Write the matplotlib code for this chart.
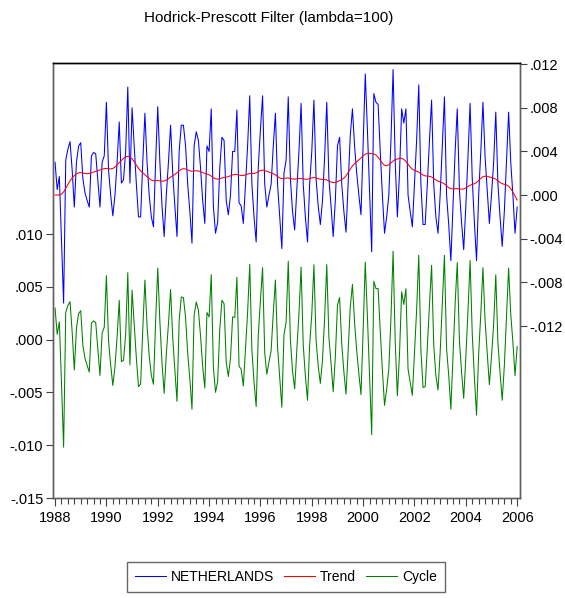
import matplotlib
matplotlib.use("Agg")
import matplotlib.pyplot as plt
from matplotlib.ticker import FixedLocator, FuncFormatter
import numpy as np

plt.rcParams['font.family'] = ['Liberation Sans Narrow', 'Liberation Sans', 'DejaVu Sans']

# monthly series, 1988M01 - 2006M01
start_year = 1988
netherlands = [
    # 1988
    0.0030, 0.0005, 0.0017, -0.0040, -0.0099, 0.0032, 0.0042, 0.0049, 0.0023, -0.0011, 0.0030, 0.0045,
    # 1989
    0.0048, 0.0015, 0.0002, -0.0005, -0.0011, 0.0036, 0.0039, 0.0038, 0.0014, -0.0011, 0.0030, 0.0036,
    # 1990
    0.0085, 0.0023, 0.0000, -0.0019, 0.0000, 0.0030, 0.0067, 0.0011, 0.0014, 0.0040, 0.0099, 0.0011,
    # 1991
    0.0080, 0.0045, 0.0010, -0.0020, -0.0020, 0.0030, 0.0075, 0.0030, 0.0000, -0.0020, -0.0029, 0.0030,
    # 1992
    0.0081, 0.0030, -0.0010, -0.0038, 0.0000, 0.0030, 0.0064, 0.0020, -0.0010, -0.0038, 0.0040, 0.0064,
    # 1993
    0.0064, 0.0045, 0.0010, -0.0015, -0.0044, 0.0045, 0.0058, 0.0050, 0.0025, -0.0005, -0.0026, 0.0045,
    # 1994
    0.0040, 0.0079, -0.0010, -0.0035, -0.0025, 0.0025, 0.0053, 0.0050, -0.0005, -0.0018, 0.0000, 0.0040,
    # 1995
    0.0040, 0.0078, -0.0007, -0.0010, -0.0026, 0.0010, 0.0045, 0.0091, 0.0010, -0.0020, -0.0043, 0.0026,
    # 1996
    0.0060, 0.0091, 0.0010, -0.0011, 0.0000, 0.0010, 0.0045, 0.0075, 0.0010, -0.0020, -0.0049, 0.0020,
    # 1997
    0.0032, 0.0090, 0.0015, -0.0015, -0.0032, 0.0005, 0.0040, 0.0084, 0.0010, -0.0020, -0.0043, 0.0010,
    # 1998
    0.0040, 0.0087, 0.0015, -0.0010, -0.0027, -0.0005, 0.0035, 0.0085, 0.0015, -0.0010, -0.0038, -0.0005,
    # 1999
    0.0045, 0.0053, 0.0010, -0.0015, -0.0034, 0.0010, 0.0055, 0.0079, 0.0045, 0.0020, 0.0000, -0.0018,
    # 2000
    0.0045, 0.0111, 0.0060, 0.0005, -0.0052, 0.0093, 0.0085, 0.0083, 0.0040, 0.0000, -0.0035, -0.0020,
    # 2001
    0.0000, 0.0050, 0.0115, 0.0030, -0.0020, 0.0020, 0.0079, 0.0066, 0.0079, 0.0000, -0.0015, -0.0029,
    # 2002
    0.0010, 0.0050, 0.0101, 0.0010, -0.0027, -0.0027, 0.0010, 0.0050, 0.0087, 0.0010, -0.0020, -0.0035,
    # 2003
    0.0000, 0.0045, 0.0090, 0.0000, -0.0027, -0.0060, -0.0010, 0.0040, 0.0079, 0.0005, -0.0025, -0.0050,
    # 2004
    -0.0010, 0.0035, 0.0084, 0.0015, -0.0025, -0.0060, 0.0000, 0.0040, 0.0085, 0.0035, 0.0005, -0.0026,
    # 2005
    0.0000, 0.0030, 0.0076, 0.0010, -0.0020, -0.0047, -0.0015, 0.0030, 0.0076, 0.0030, 0.0000, -0.0035,
    # 2006
    -0.0011,
]
hp_lambda = 100

left_ticks = [-0.015, -0.010, -0.005, 0.000, 0.005, 0.010]
right_ticks = [-0.012, -0.008, -0.004, 0.000, 0.004, 0.008, 0.012]
year_labels = list(range(1988, 2007, 2))


def hp_filter(y, lam):
    y = np.asarray(y, dtype=float)
    n = len(y)
    d = np.zeros((n - 2, n))
    for i in range(n - 2):
        d[i, i:i + 3] = [1.0, -2.0, 1.0]
    trend = np.linalg.solve(np.eye(n) + lam * d.T @ d, y)
    return trend


def eviews_fmt(v, pos=None):
    s = "%.3f" % v
    if s == "-0.000":
        s = "0.000"
    return s.replace("0.", ".", 1)


series = np.array(netherlands)
trend = hp_filter(series, hp_lambda)
cycle = series - trend
t = start_year + np.arange(len(series)) / 12.0

fig = plt.figure(figsize=(5.65, 5.98), dpi=100)
ax = fig.add_axes([53 / 565, 1 - 498 / 598, 467 / 565, 435 / 598])
ax2 = ax.twinx()

l1, = ax2.plot(t, series, color='#0000ff', lw=0.75, label='NETHERLANDS')
l2, = ax2.plot(t, trend, color='#ff0000', lw=0.75, label='Trend')
l3, = ax.plot(t, cycle, color='#008000', lw=0.75, label='Cycle')

ax.set_xlim(1987.92, 2006.11)
ax.set_ylim(-0.015, 0.0262)
ax2.set_ylim(-0.02775, 0.0121)

ax.yaxis.set_major_locator(FixedLocator(left_ticks))
ax.yaxis.set_major_formatter(FuncFormatter(eviews_fmt))
ax2.yaxis.set_major_locator(FixedLocator(right_ticks))
ax2.yaxis.set_major_formatter(FuncFormatter(eviews_fmt))

ax.xaxis.set_major_locator(FixedLocator(year_labels))
ax.xaxis.set_major_formatter(FuncFormatter(lambda v, p: "%d" % round(v)))
ax.xaxis.set_minor_locator(FixedLocator(np.arange(1988, 2006.01, 0.25)))

ax.tick_params(axis='x', which='major', direction='out', length=6, width=0.8,
               color='#404040', labelsize=10.5, pad=3)
ax.tick_params(axis='x', which='minor', direction='out', length=4, width=0.8, color='#404040')
ax.tick_params(axis='y', direction='out', length=5, width=0.8, color='#404040',
               labelsize=10.5, pad=2)
ax2.tick_params(axis='y', direction='out', length=5, width=0.8, color='#404040',
                labelsize=10.5, pad=2)

for a in (ax, ax2):
    for side in ('left', 'right', 'bottom'):
        a.spines[side].set_color('#606060')
        a.spines[side].set_linewidth(1.0)
    a.spines['top'].set_color('#000000')
    a.spines['top'].set_linewidth(1.0)

fig.text(0.475, 1 - 18 / 598, 'Hodrick-Prescott Filter (lambda=100)',
         ha='center', va='center', fontsize=11)

leg = fig.legend(handles=[l1, l2, l3], loc='center', bbox_to_anchor=(286 / 565, 1 - 577 / 598),
                 ncol=3, frameon=True, fancybox=False, fontsize=10, handlelength=2.2,
                 handletextpad=0.4, columnspacing=0.7, borderpad=0.6)
leg.get_frame().set_edgecolor('#404040')
leg.get_frame().set_linewidth(1.0)

fig.savefig('out.png', dpi=100)
